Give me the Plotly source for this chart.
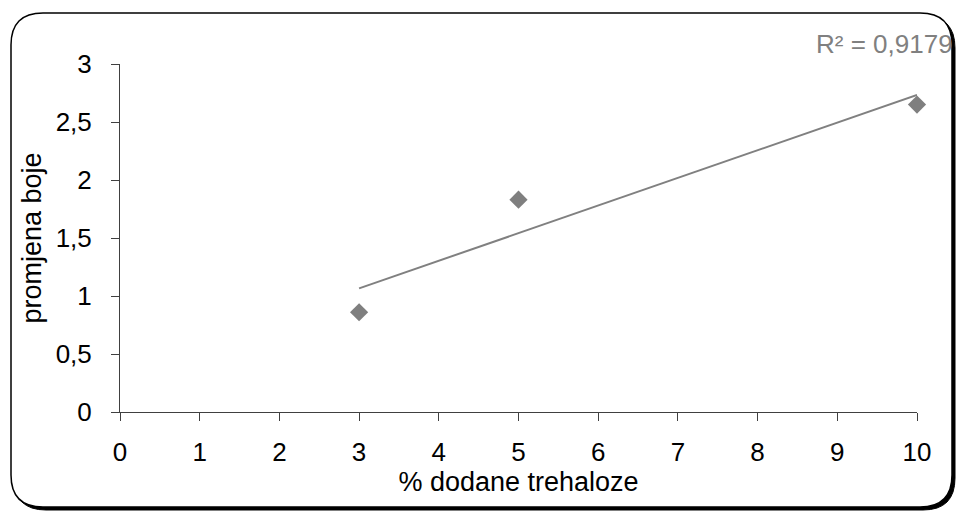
import numpy as np
import plotly.graph_objects as go

# data
trehaloza = [3, 5, 10]
promjena_boje = [0.86, 1.83, 2.65]
r2_label = "R² = 0,9179"
x_title = "% dodane trehaloze"
y_title = "promjena boje"
x_ticks = list(range(0, 11))
y_ticks = [0, 0.5, 1, 1.5, 2, 2.5, 3]

# linear trendline (least squares, as the spreadsheet does)
slope, intercept = np.polyfit(trehaloza, promjena_boje, 1)
trend_x = [min(trehaloza), max(trehaloza)]
trend_y = [slope * v + intercept for v in trend_x]

W, H = 956, 511
ML, MR, MT, MB = 120, 39, 64, 99
PW, PH = W - ML - MR, H - MT - MB


def px(xp):
    return (xp - ML) / PW


def py(yp):
    return (H - MB - yp) / PH


def rounded_path(L, T, R, B, r):
    pts = [
        ("M", [(L + r, T)]),
        ("L", [(R - r, T)]),
        ("Q", [(R, T), (R, T + r)]),
        ("L", [(R, B - r)]),
        ("Q", [(R, B), (R - r, B)]),
        ("L", [(L + r, B)]),
        ("Q", [(L, B), (L, B - r)]),
        ("L", [(L, T + r)]),
        ("Q", [(L, T), (L + r, T)]),
    ]
    s = ""
    for cmd, plist in pts:
        s += cmd + " " + " ".join(f"{px(a):.5f},{py(b):.5f}" for a, b in plist) + " "
    return s + "Z"


fig = go.Figure()

fig.add_trace(go.Scatter(
    x=trend_x, y=trend_y, mode="lines",
    line=dict(color="#808080", width=2),
    hoverinfo="skip", showlegend=False, cliponaxis=False,
))
fig.add_trace(go.Scatter(
    x=trehaloza, y=promjena_boje, mode="markers",
    marker=dict(symbol="diamond", size=14, color="#7f7f7f"),
    showlegend=False, cliponaxis=False,
))

# chart frame: shadow + rounded border
fig.add_shape(type="path", xref="paper", yref="paper", layer="below",
              path=rounded_path(14, 16, 955, 510, 32),
              fillcolor="black", line=dict(color="black", width=1))
fig.add_shape(type="path", xref="paper", yref="paper", layer="below",
              path=rounded_path(11, 13, 952, 507, 32),
              fillcolor="white", line=dict(color="black", width=1.5))

fig.add_annotation(
    text=r2_label, xref="paper", yref="paper",
    x=px(955), y=py(44), xanchor="right", yanchor="middle",
    showarrow=False, font=dict(family="Liberation Sans, Arial", size=26, color="#808080"),
)

tick_font = dict(family="Liberation Sans, Arial", size=26, color="black")
title_font = dict(family="Liberation Sans, Arial", size=27, color="black")

fig.update_xaxes(
    range=[0, 10], tickvals=x_ticks, showgrid=False, zeroline=False,
    showline=True, linecolor="#404040", linewidth=1,
    ticks="outside", ticklen=8, tickcolor="#404040",
    tickfont=tick_font, ticklabelstandoff=9,
    title=dict(text=x_title, font=title_font, standoff=0),
)
fig.update_yaxes(
    range=[0, 3], tickvals=y_ticks, showgrid=False, zeroline=False,
    showline=True, linecolor="#404040", linewidth=1,
    ticks="outside", ticklen=8, tickcolor="#404040",
    tickfont=tick_font, ticklabelstandoff=14,
    title=dict(text=y_title, font=title_font, standoff=6),
)

fig.update_layout(
    width=W, height=H,
    margin=dict(l=ML, r=MR, t=MT, b=MB),
    paper_bgcolor="white", plot_bgcolor="rgba(0,0,0,0)",
    separators=", ",
    font=dict(family="Liberation Sans, Arial"),
)

fig.write_html(
    "out.html",
    config={"displayModeBar": False},
    post_script="document.body.style.margin='0';document.body.style.overflow='hidden';",
)
